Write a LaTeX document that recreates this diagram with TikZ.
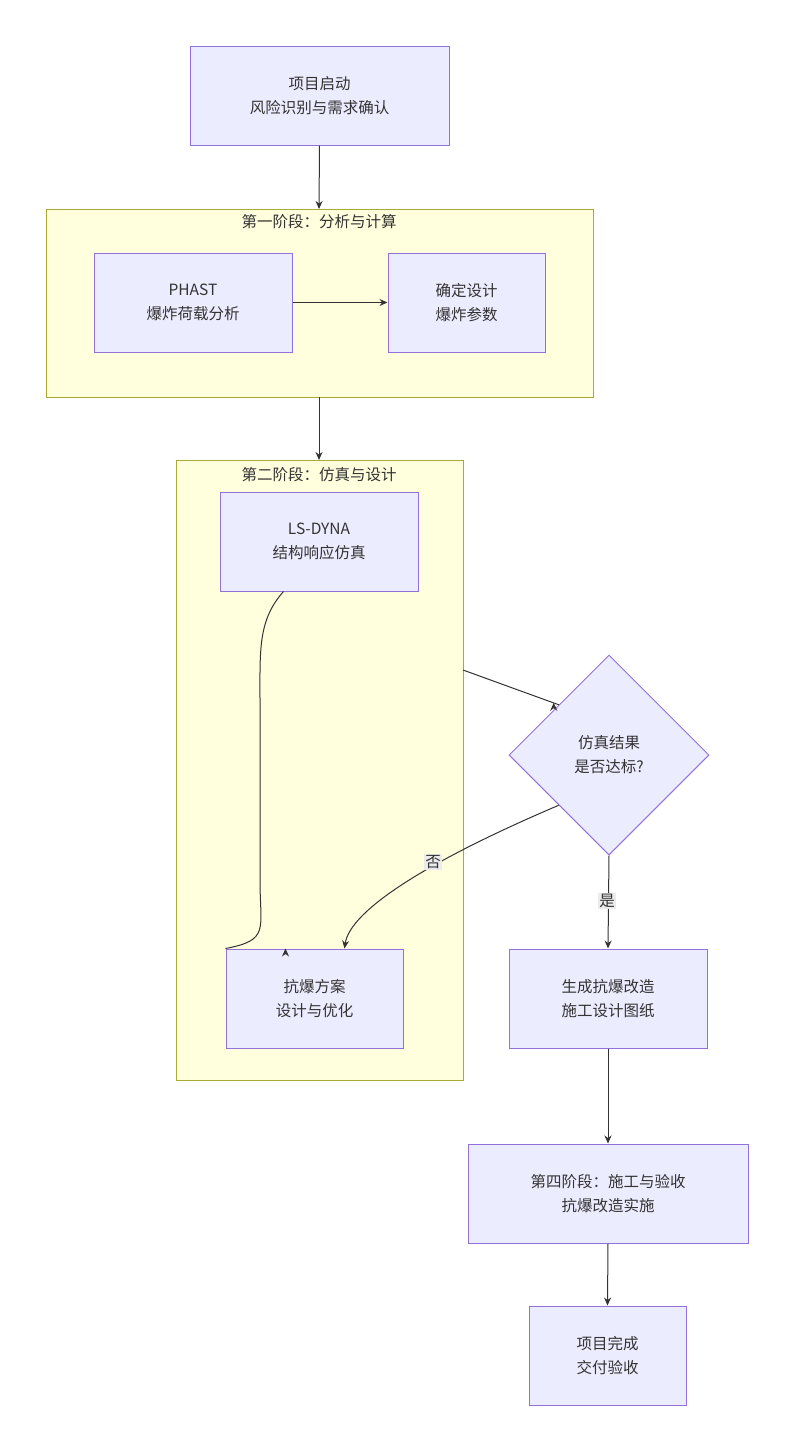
\documentclass[tikz,border=0pt]{standalone}
\usepackage{fontspec}
\setmainfont{Noto Sans CJK SC}
\usetikzlibrary{shapes.geometric,arrows.meta}
\definecolor{nfill}{HTML}{ECECFF}
\definecolor{nstroke}{HTML}{9370DB}
\definecolor{cfill}{HTML}{FFFFDE}
\definecolor{cstroke}{HTML}{AAAA33}
\definecolor{txt}{HTML}{333333}
\begin{document}
\begin{tikzpicture}[x=1pt,y=-1pt,
  every node/.style={text=txt,font=\fontsize{15.5}{24}\selectfont,align=center},
  box/.style={draw=nstroke,fill=nfill,line width=1pt,inner sep=0pt},
  clus/.style={draw=cstroke,fill=cfill,line width=1pt},
  arr/.style={draw=txt,line width=1pt,-{Stealth[length=8pt,width=7pt]}},
  lab/.style={fill=black!8,inner sep=1pt}]
\useasboundingbox (0,0) rectangle (794,1452);
\fill[white] (0,0) rectangle (794,1452);
% clusters
\draw[clus] (46,209) rectangle (593,397);
\node (c1t) at (319,222) {第一阶段：分析与计算};
\draw[clus] (176,460) rectangle (463,1080);
\node (c2t) at (319,475) {第二阶段：仿真与设计};
\coordinate (c1top) at (319,209);
\coordinate (c1bot) at (319,397);
\coordinate (c2top) at (319,460);
\coordinate (c2r) at (463,670);
% nodes
\node[box,minimum width=259,minimum height=99] (start) at (319.5,95.5) {项目启动\\风险识别与需求确认};
\node[box,minimum width=198,minimum height=99] (phast) at (193,302.5) {PHAST\\爆炸荷载分析};
\node[box,minimum width=157,minimum height=99] (param) at (466.5,302.5) {确定设计\\爆炸参数};
\node[box,minimum width=198,minimum height=99] (ls) at (319,541.5) {LS-DYNA\\结构响应仿真};
\node[box,diamond,minimum width=200,minimum height=200] (dec) at (609,755) {仿真结果\\是否达标?};
\node[box,minimum width=177,minimum height=99] (opt) at (314.5,998.5) {抗爆方案\\设计与优化};
\node[box,minimum width=198,minimum height=99] (gen) at (608,998.5) {生成抗爆改造\\施工设计图纸};
\node[box,minimum width=280,minimum height=99] (p4) at (608,1193.5) {第四阶段：施工与验收\\抗爆改造实施};
\node[box,minimum width=157,minimum height=99] (done) at (607.5,1355.5) {项目完成\\交付验收};
% edges
\draw[arr] (start.south) -- (c1top);
\draw[arr] (phast.east) -- (param.west);
\draw[arr] (c1bot) -- (c2top);
\draw[arr] (ls.south west) ++(64,0) .. controls (258,620) and (260,650) .. (260,700) -- (260,880) .. controls (260,930) and (270,940) .. (opt.north west) ++(60,0);
\draw[arr] (c2r) -- (dec.north west) ++(-5,-2);
\draw[arr] (dec.south west) ++(0,0) .. controls (430,860) and (350,910) .. ([xshift=30]opt.north);
\node[lab] (no) at (433,862) {否};
\draw[arr] (dec.south) -- (gen.north);
\node[lab] (yes) at (607,901) {是};
\draw[arr] (gen.south) -- (p4.north);
\draw[arr] (p4.south) -- (done.north);
\end{tikzpicture}
\end{document}
